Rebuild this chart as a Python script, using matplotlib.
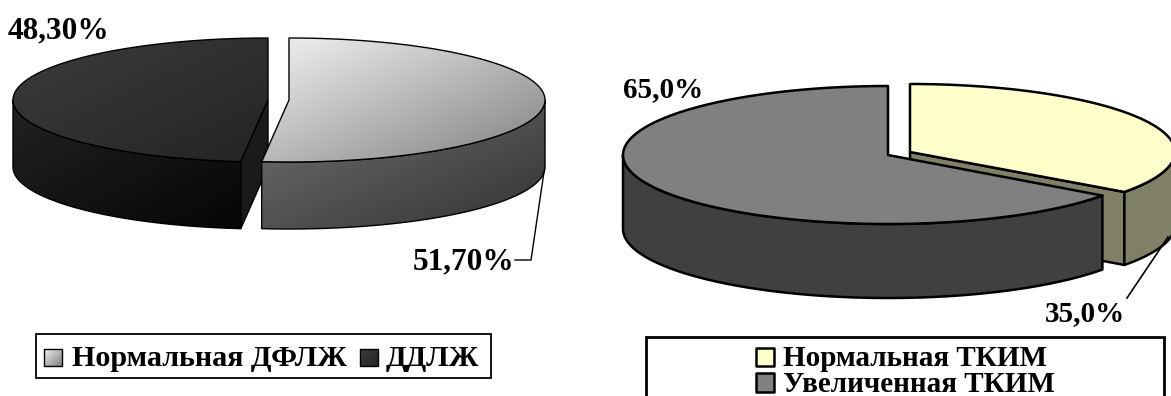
import numpy as np
import matplotlib
matplotlib.use("Agg")
import matplotlib.pyplot as plt
from matplotlib.colors import LinearSegmentedColormap
from matplotlib.patches import Polygon, Rectangle

plt.rcParams['font.family'] = ['Liberation Serif', 'DejaVu Serif']

# left pie
lv_names = ['Нормальная ДФЛЖ', 'ДДЛЖ']
lv_values = [51.7, 48.3]
lv_labels = ['51,70%', '48,30%']

# right pie
tk_names = ['Нормальная ТКИМ', 'Увеличенная ТКИМ']
tk_values = [35.0, 65.0]
tk_labels = ['35,0%', '65,0%']

W, H = 1171, 396
fig = plt.figure(figsize=(W / 100, H / 100), dpi=100)
ax = fig.add_axes([0, 0, 1, 1])
ax.axis('off')


def rim(cx, cy, rx, ry, a0, a1):
    # angles run clockwise from 12 o'clock, y axis points down
    t = np.radians(np.linspace(a0, a1, 120))
    return np.column_stack([cx + rx * np.sin(t), cy - ry * np.cos(t)])


def shade(verts, c0, c1, lw, z, diag=True):
    # flat polygon when both colours agree, otherwise a clipped gradient
    verts = np.asarray(verts)
    if c0 == c1:
        ax.add_patch(Polygon(verts, closed=True, fc=c0, ec='black', lw=lw, zorder=z, joinstyle='round'))
        return
    x0, y0 = verts.min(axis=0)
    x1, y1 = verts.max(axis=0)
    gx, gy = np.meshgrid(np.linspace(0, 1, 200), np.linspace(0, 1, 200))
    grad = (gx + gy) / 2 if diag else gx
    cmap = LinearSegmentedColormap.from_list('g', [c0, c1])
    im = ax.imshow(grad, extent=[x0, x1, y1, y0], cmap=cmap, vmin=0, vmax=1,
                   aspect='auto', zorder=z, interpolation='bilinear')
    edge = Polygon(verts, closed=True, fc='none', ec='black', lw=lw, zorder=z + 0.1, joinstyle='round')
    ax.add_patch(edge)
    im.set_clip_path(edge)


def slice_3d(cx, cy, rx, ry, depth, a0, a1, top, wall, lw, z, cut=None):
    if cut is not None:
        p = rim(cx, cy, rx, ry, a1, a1)[0]
        shade([(cx, cy), p, (p[0], p[1] + depth), (cx, cy + depth)], cut, cut, lw, z)
    w0, w1 = max(a0, 90), min(a1, 270)
    if w1 > w0:
        arc = rim(cx, cy, rx, ry, w0, w1)
        low = arc[::-1] + [0, depth]
        shade(np.vstack([arc, low]), wall[0], wall[1], lw, z + 1)
    pts = np.vstack([[(cx, cy)], rim(cx, cy, rx, ry, a0, a1)])
    shade(pts, top[0], top[1], lw, z + 2)


def split(values):
    total = sum(values)
    return values[0] / total * 360


# left chart
a = split(lv_values)
slice_3d(268, 100, 255, 62, 67, a, 360, ('#3c3c3c', '#242424'), ('#222222', '#060606'), 1.0, 2, )
p = rim(268, 100, 255, 62, a, a)[0]
shade([(268, 100), p, (p[0], p[1] + 67), (268, 167)], '#1a1a1a', '#1a1a1a', 1.0, 5)
slice_3d(289, 100, 256, 62, 67, 0, a, ('#f2f2f2', '#808080'), ('#707070', '#333333'), 1.0, 6)

# right chart
b = split(tk_values)
slice_3d(910, 152, 265, 68, 73, 0, b, ('#ffffcc', '#ffffcc'), ('#808066', '#808066'), 1.8, 2, cut='#808066')
slice_3d(888, 155, 265, 69, 74, b, 360, ('#808080', '#808080'), ('#404040', '#404040'), 1.8, 6)

# leader lines
ax.plot([544, 531, 515], [172, 260, 260], color='black', lw=1.0, zorder=12)
ax.plot([1168, 1127], [237, 298], color='black', lw=1.2, zorder=12)

lab = dict(fontsize=22.5, fontweight='bold', color='black', va='center', zorder=13)
ax.text(8, 31, lv_labels[1], ha='left', **lab)
ax.text(514, 262, lv_labels[0], ha='right', **lab)
lab['fontsize'] = 21
ax.text(623, 90, tk_labels[1], ha='left', **lab)
ax.text(1125, 314, tk_labels[0], ha='right', **lab)

# legends
ax.add_patch(Rectangle((36, 334), 455, 44, fc='white', ec='black', lw=1.3, zorder=1))
shade([(44, 349), (62, 349), (62, 366), (44, 366)], '#f2f2f2', '#808080', 1.0, 3)
shade([(360, 349), (378, 349), (378, 366), (360, 366)], '#3c3c3c', '#242424', 1.0, 3)
leg = dict(fontsize=21.7, fontweight='bold', color='black', va='center', ha='left', zorder=4)
ax.text(72, 359, lv_names[0], **leg)
ax.text(386, 359, lv_names[1], **leg)

leg['fontsize'] = 21
ax.add_patch(Rectangle((646, 337), 518, 70, fc='white', ec='black', lw=2, zorder=1))
shade([(756, 348), (774, 348), (774, 366), (756, 366)], '#ffffcc', '#ffffcc', 1.8, 3)
shade([(756, 373), (774, 373), (774, 392), (756, 392)], '#808080', '#808080', 1.8, 3)
ax.text(783, 358, tk_names[0], **leg)
ax.text(783, 384, tk_names[1], **leg)

ax.set_xlim(0, W)
ax.set_ylim(H, 0)
fig.savefig('out.png', dpi=100, facecolor='white')
